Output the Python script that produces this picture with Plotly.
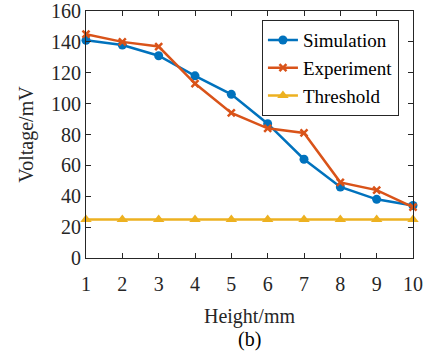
import plotly.graph_objects as go

heights = [1, 2, 3, 4, 5, 6, 7, 8, 9, 10]
simulation = [141, 138, 131, 118, 106, 87, 64, 46, 38, 34]
experiment = [145, 140, 137, 113, 94, 84, 81, 49, 44, 33]
threshold = [25, 25, 25, 25, 25, 25, 25, 25, 25, 25]
y_ticks = [0, 20, 40, 60, 80, 100, 120, 140, 160]

font = "Liberation Serif, Times New Roman, serif"

fig = go.Figure()
fig.add_trace(go.Scatter(x=heights, y=simulation, name="Simulation", mode="lines+markers",
                         line=dict(color="#0072BD", width=2.5),
                         marker=dict(symbol="circle", size=9, color="#0072BD"),
                         cliponaxis=False))
fig.add_trace(go.Scatter(x=heights, y=experiment, name="Experiment", mode="lines+markers",
                         line=dict(color="#D95319", width=2.5),
                         marker=dict(symbol="x-thin", size=7, color="#D95319",
                                     line=dict(color="#D95319", width=2.5)),
                         cliponaxis=False))
fig.add_trace(go.Scatter(x=heights, y=threshold, name="Threshold", mode="lines+markers",
                         line=dict(color="#EDB120", width=2.5),
                         marker=dict(symbol="triangle-up", size=10, color="#EDB120"),
                         cliponaxis=False))

axis_common = dict(showline=True, linecolor="#262626", linewidth=1, mirror="ticks",
                   ticks="inside", ticklen=5, tickcolor="#262626", showgrid=False,
                   zeroline=False, automargin=False,
                   tickfont=dict(family=font, size=20, color="#262626"))

fig.update_layout(
    width=430, height=360,
    margin=dict(l=86, r=17, t=11, b=102),
    paper_bgcolor="white", plot_bgcolor="white",
    font=dict(family=font, size=20, color="#262626"),
    showlegend=True,
    legend=dict(x=0.957, y=0.963, xanchor="right", yanchor="top",
                bordercolor="#262626", borderwidth=1, bgcolor="white",
                font=dict(family=font, size=19, color="#000000"),
                itemwidth=30, tracegroupgap=0),
    xaxis=dict(range=[1, 10], tickvals=heights, ticktext=[str(h) for h in heights],
               ticklabelstandoff=8,
               title=dict(text="Height/mm", font=dict(family=font, size=20), standoff=14),
               **axis_common),
    yaxis=dict(range=[0, 160], tickvals=y_ticks,
               title=dict(text="Voltage/mV", font=dict(family=font, size=20), standoff=12),
               **axis_common),
    annotations=[dict(text="(b)", x=0.5, y=-0.275, xref="paper", yref="paper",
                      xanchor="center", yanchor="top", showarrow=False,
                      font=dict(family=font, size=20, color="#000000"))],
)

fig.write_html("out.html", config={"displayModeBar": False},
               post_script="document.body.style.margin='0';document.body.style.padding='0';")
